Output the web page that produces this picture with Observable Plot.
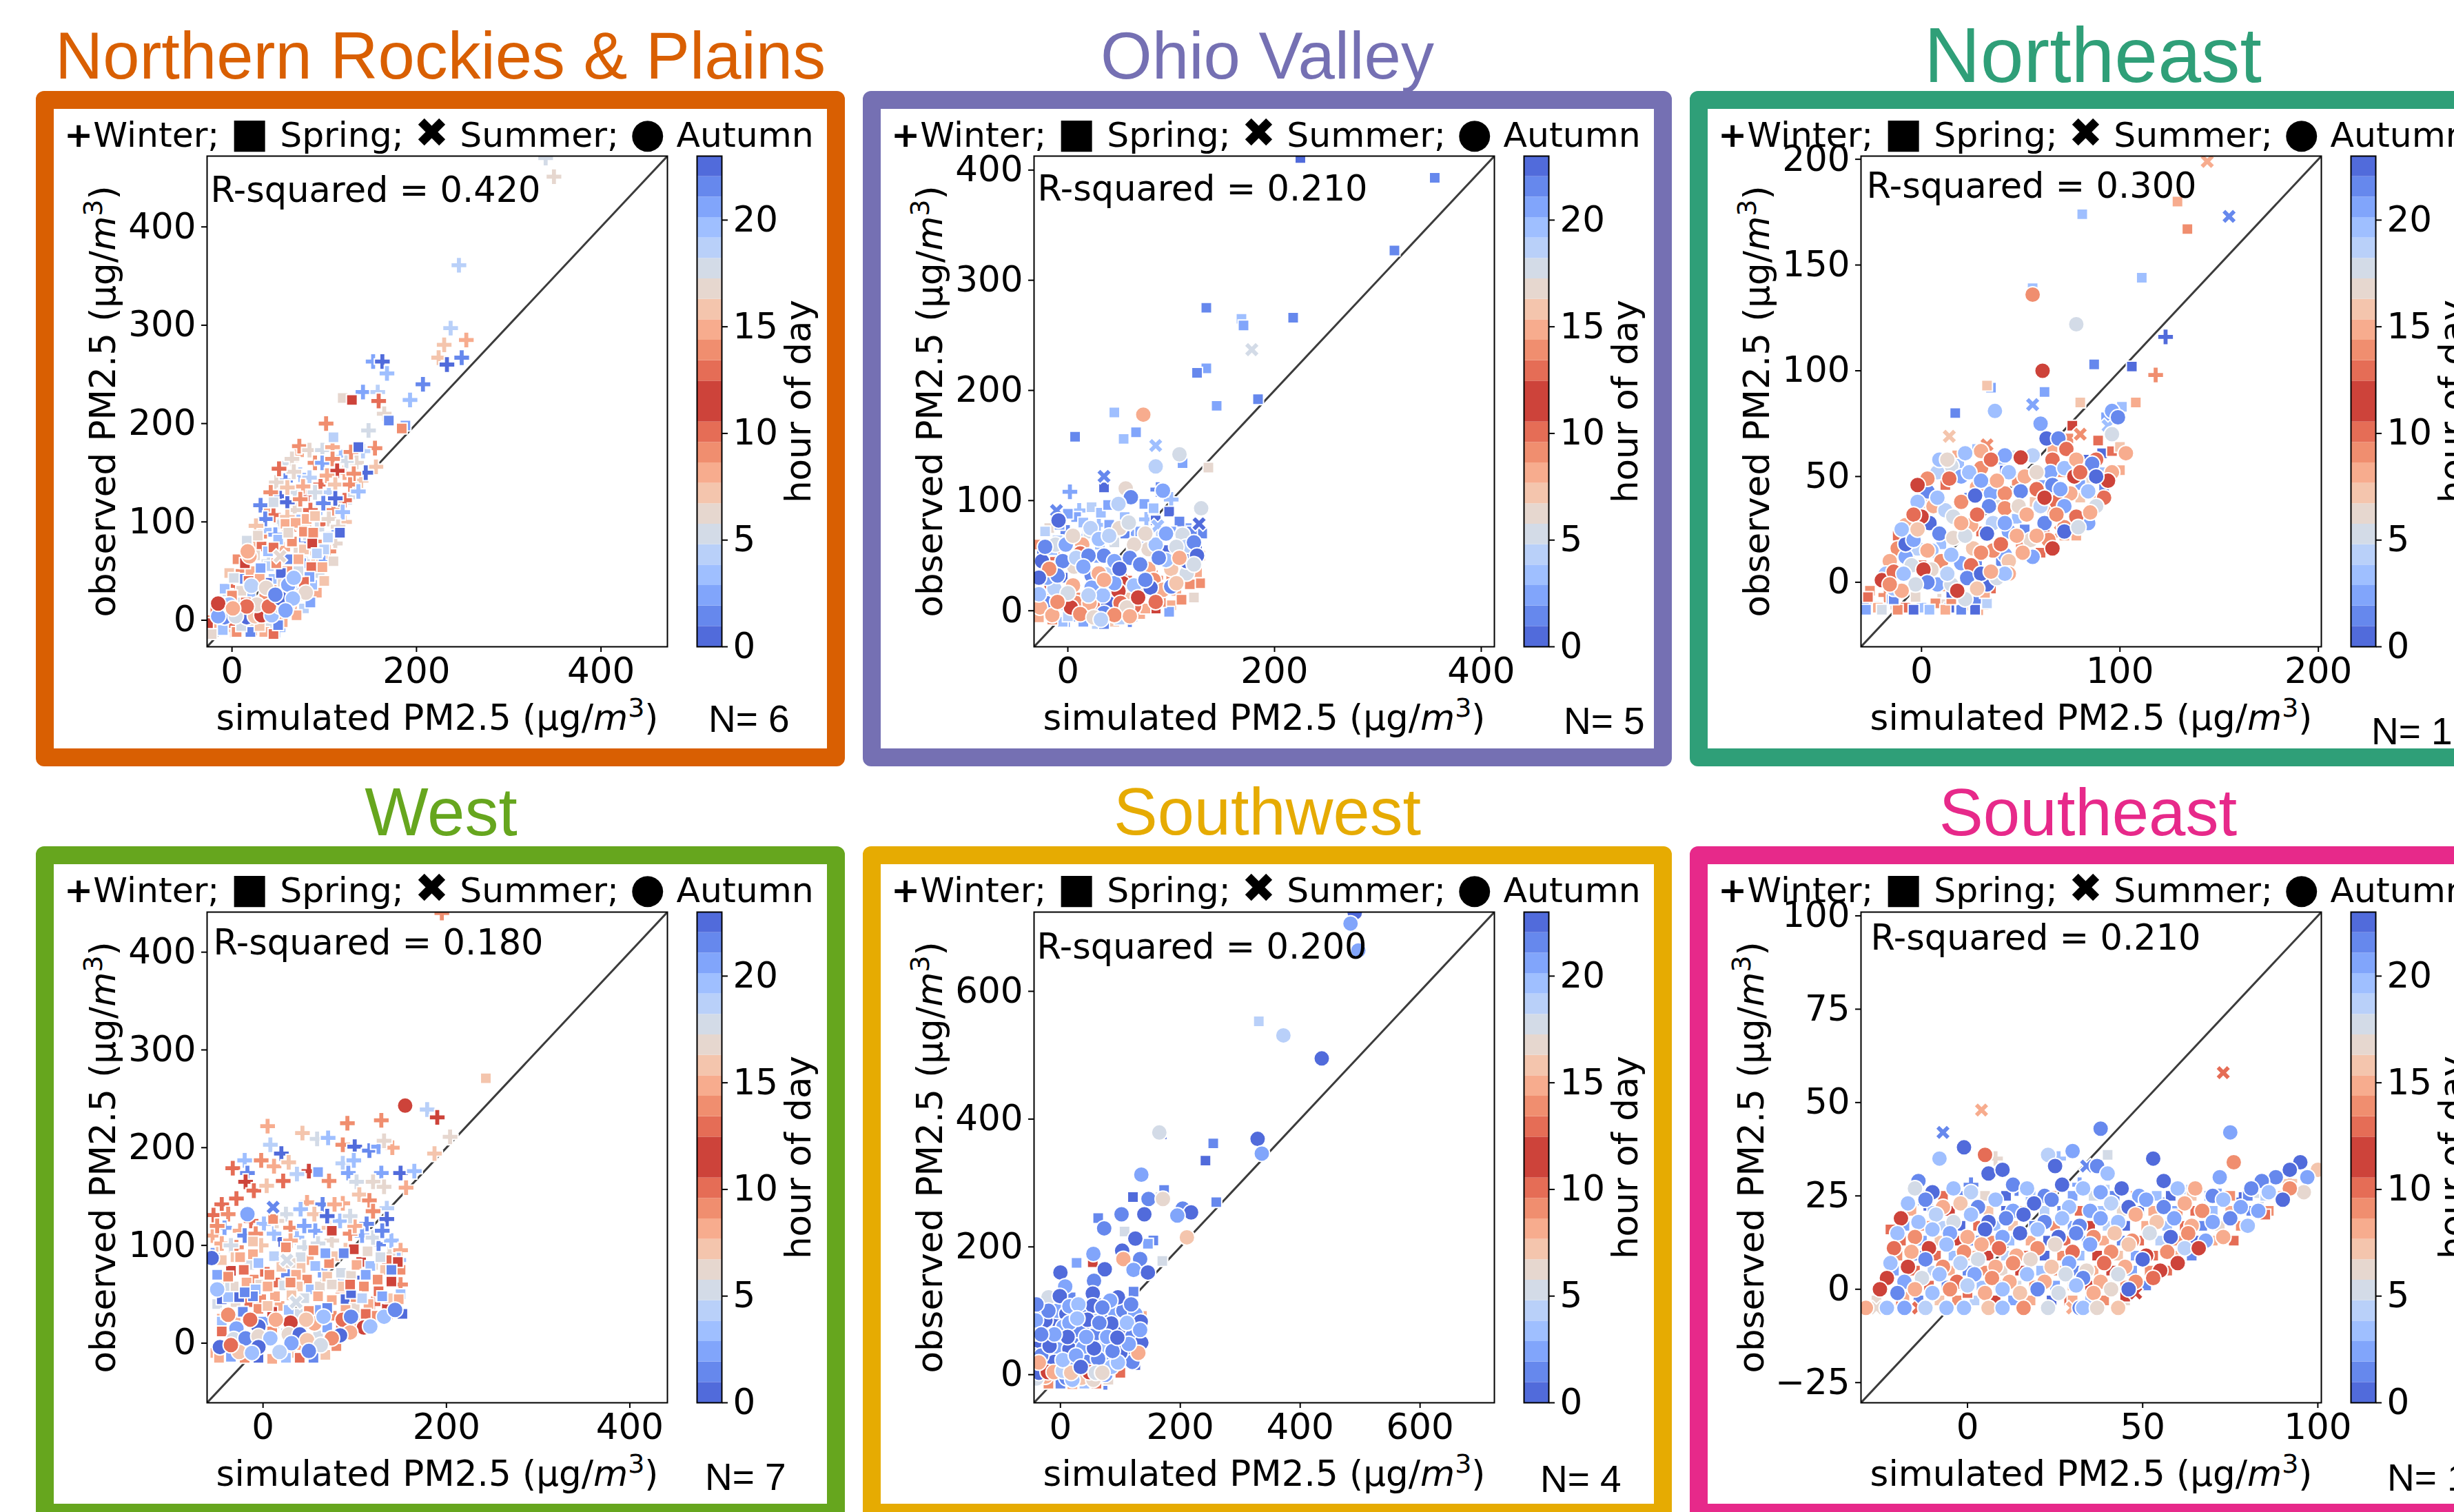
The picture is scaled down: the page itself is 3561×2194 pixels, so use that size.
<!DOCTYPE html>
<html><head><meta charset="utf-8">
<script src="https://cdn.jsdelivr.net/npm/d3@7"></script>
<script src="https://cdn.jsdelivr.net/npm/@observablehq/plot@0.6"></script>
<style>
html,body{margin:0;padding:0;background:#fff}
body{position:relative;width:3561px;height:2194px;overflow:hidden}
.frame{position:absolute;box-sizing:border-box;border-style:solid;border-width:26px;border-radius:12px;background:#fff}
.title{position:absolute;font-family:"Liberation Sans",sans-serif;line-height:1;white-space:nowrap;transform:translateX(-50%)}
.n{position:absolute;font-family:"Liberation Sans",sans-serif;line-height:1;font-size:55px;white-space:nowrap;color:#000}
.legend{position:absolute;font-family:"DejaVu Sans",sans-serif;line-height:1;font-size:50.4px;white-space:pre;color:#000}
.legend span{font-size:59px;line-height:0}
svg{overflow:visible;background:transparent !important}
</style></head><body>
<script>
// hour-of-day colour bands
const hours=[0,1,2,3,4,5,6,7,8,9,10,11,12,13,14,15,16,17,18,19,20,21,22,23];
const hourColors=["#516bdb","#6688ed","#81a5fb","#9fbfff","#b9d0f9","#d3dbe7","#e6d7cf","#f4c5ad","#f7ac8e","#f08e6f","#e56d56","#cd433a","#cd433a","#e56d56","#f08e6f","#f7ac8e","#f4c5ad","#e6d7cf","#d3dbe7","#b9d0f9","#9fbfff","#81a5fb","#6688ed","#516bdb"];
const barTicks=[0,5,10,15,20];

// [simulated, observed, hour]
const rockiesWinter=[[340,470,5],[349,451,6],[246,361,4],[237,297,4],[230,280,7],[254,285,8],[224,267,7],[233,260,0],[249,267,1],[153,263,2],[163,263,0],[168,251,3],[207,240,1],[193,224,3],[142,232,2],[158,232,4],[159,223,10],[165,210,6],[148,193,5],[102,200,9],[70,168,8],[118,166,3],[135,160,6],[58,160,5],[90,160,9],[74,148,3],[122,150,8],[58,142,1],[96,138,10],[140,142,7],[48,140,6],[68,130,5],[82,128,11],[105,130,4],[128,125,5],[44,118,7],[38,112,8],[68,112,6],[90,108,3],[110,112,9],[122,100,7],[52,100,5],[78,95,7],[62,92,9],[35,92,3],[110,88,2],[85,82,5],[98,98,10],[25,78,8],[40,72,9],[72,78,1],[112,78,6],[60,60,6],[80,60,5],[95,60,8],[102,62,2],[18,62,7],[73,177,9],[84,173,6],[98,173,5],[109,176,8],[155,175,9],[142,172,4],[124,162,5],[156,156,7],[98,160,2],[109,164,9],[129,171,9],[65,164,6],[114,152,11],[145,150,0],[132,149,9],[67,151,6],[51,154,10],[84,145,4],[103,147,8],[112,138,7],[128,138,9],[77,136,8],[137,131,3],[52,126,0],[60,120,0],[74,123,9],[99,119,1],[122,122,10],[112,124,0],[31,117,1],[45,107,10],[36,103,1],[26,96,7],[47,87,2],[105,103,6],[69,76,6],[105,70,9],[60,135,7],[90,130,5],[42,130,9],[120,110,3],[85,112,10],[60,105,7],[30,85,9],[92,92,5],[115,95,6],[72,100,3],[55,72,8],[88,68,7],[40,60,5],[20,70,10],[100,80,9],[12,50,9],[28,48,1],[70,40,6],[48,40,8],[5,35,10],[-8,22,5],[15,22,11],[-15,10,9],[-22,-5,10],[-26,-2,8],[0,-10,7],[25,-8,9],[50,-10,3]];
const rockiesSpring=[[45,120,5],[58,98,8],[32,75,10],[50,82,3],[78,72,7],[65,80,9],[100,72,4],[110,60,6],[6,62,9],[20,50,8],[40,55,4],[60,50,9],[75,58,2],[95,48,5],[-3,48,7],[8,42,1],[18,40,10],[45,42,3],[55,38,6],[75,30,0],[92,28,8],[-8,32,3],[5,18,5],[25,12,9],[50,15,2],[65,15,8],[78,12,4],[-18,12,10],[-5,8,6],[12,5,2],[30,0,7],[45,2,4],[55,-2,8],[-24,0,9],[-12,-2,1],[2,-3,10],[20,-3,6],[38,-8,5],[-30,-8,8],[120,226,6],[130,224,11],[170,203,1],[188,198,2],[184,195,9],[110,186,4],[137,176,0],[81,103,8],[69,99,8],[90,106,7],[61,89,6],[78,90,9],[88,89,9],[117,89,0],[104,84,4],[87,78,11],[16,81,5],[28,86,6],[39,70,3],[14,58,11],[31,53,2],[53,48,0],[86,54,10],[98,54,8],[87,36,3],[84,44,2],[78,39,10],[38,38,0],[2,43,5],[20,28,3],[35,22,9],[55,28,5],[72,25,7],[60,62,1],[72,62,8],[25,66,6],[45,74,10],[72,50,5],[92,68,4],[100,40,7],[65,38,2],[48,58,9],[30,42,8],[10,30,6],[0,25,9],[-10,18,2],[15,18,10],[40,12,6],[60,8,5],[85,18,2],[-20,-8,8],[-10,-10,3],[5,-12,9],[20,-12,1],[35,-12,8],[-22,-14,6],[45,-14,10],[10,-6,5],[30,-6,7],[50,-5,1],[70,5,8],[-26,-3,11]];
const rockiesSummer=[[52,65,6]];
const rockiesAutumn=[[16,3,0],[-8,3,1],[-15,4,2],[4,4,5],[25,4,7],[32,5,11],[43,5,3],[52,14,5],[60,16,3],[27,16,6],[40,14,10],[-3,16,3],[-15,17,11],[16,14,10],[1,12,8],[80,28,6],[61,36,2],[67,43,3],[21,35,4],[37,33,6],[19,65,8],[17,70,8],[53,22,0],[66,22,3],[47,26,1],[58,10,2]];

const ohioWinter=[[2,108,2],[100,101,3],[87,110,1],[11,91,3],[0,71,1],[76,83,3],[44,45,10],[103,27,4],[64,70,2],[16,68,3],[-10,47,10],[30,78,3],[55,30,10],[85,30,9],[-15,30,8],[25,15,9],[60,-8,1],[0,-8,2]];
const ohioSpring=[[-28,30,4],[-28,60,9],[-15,55,3],[-5,60,1],[20,70,5],[50,72,0],[62,55,2],[80,62,6],[105,60,3],[115,75,2],[130,70,1],[128,50,8],[128,25,9],[122,12,6],[100,30,9],[100,5,8],[85,18,10],[72,18,9],[58,12,7],[40,20,11],[28,5,10],[12,12,9],[-10,12,11],[-25,-3,9],[-5,-10,3],[28,-12,4],[45,-10,7],[70,-3,8],[85,2,11],[98,-1,2],[-18,75,6],[8,85,2],[55,70,1],[85,82,0],[225,411,0],[355,393,1],[316,327,1],[134,275,1],[168,265,3],[170,259,2],[218,266,1],[134,220,2],[125,216,1],[144,186,2],[184,192,1],[45,180,3],[66,162,2],[54,156,3],[7,158,1],[111,134,2],[136,130,6],[35,112,0],[0,88,2],[23,94,4],[32,89,3],[39,96,2],[74,97,2],[83,93,3],[98,90,0],[108,81,1],[-10,64,4],[31,60,3],[95,55,0],[110,47,3],[100,72,2],[-22,72,4],[-8,78,2],[15,80,3],[40,78,2],[55,85,3],[70,72,2],[90,70,4],[120,72,1],[125,60,0],[-25,50,1],[-15,40,2],[10,58,4],[45,62,5],[70,60,1],[120,48,0],[125,35,8],[118,24,9],[105,18,8],[90,8,9],[75,2,8],[60,-2,10],[40,-5,3],[20,-8,1],[0,-5,4],[-15,-8,9],[-28,-6,8],[35,-12,1],[15,-10,2],[50,-8,4],[-20,14,9],[-5,30,0],[30,48,2],[60,45,3],[85,45,1],[40,35,4],[70,12,5],[110,10,9]];
const ohioSummer=[[178,237,5],[85,150,3],[35,122,1],[-11,91,1],[87,77,3],[127,79,0],[38,67,2]];
const ohioAutumn=[[73,178,8],[108,142,5],[85,131,4],[56,111,6],[92,109,2],[61,103,1],[49,97,4],[-9,82,0],[129,93,5],[50,75,6],[59,80,5],[22,75,4],[111,69,5],[114,58,4],[14,60,8],[12,52,10],[78,56,6],[64,60,6],[-12,60,5],[115,34,5],[6,40,6],[23,32,1],[30,34,8],[78,38,8],[100,38,7],[53,25,11],[83,28,9],[92,19,8],[49,18,11],[80,21,0],[5,23,8],[-16,24,11],[23,21,2],[64,23,3],[-21,7,1],[-5,7,4],[8,7,9],[21,7,8],[39,7,0],[51,7,10],[-13,20,4],[64,4,10],[-27,3,8],[3,3,11],[57,3,6],[34,14,3],[-25,45,0],[-5,45,1],[35,50,1],[60,48,1],[95,46,3],[75,28,1],[45,25,2],[20,14,4],[0,16,5],[-20,30,2],[-28,15,3],[100,22,1],[115,45,0],[45,45,2],[85,60,3],[30,65,3],[-2,60,2],[-22,58,1],[5,68,6],[40,68,4],[75,70,6],[95,70,2],[122,62,1],[105,58,5],[88,48,1],[70,42,1],[50,38,0],[35,28,8],[-10,32,1],[8,48,4],[-18,38,9],[125,50,0],[108,48,8],[68,12,11],[85,8,10],[12,-3,9],[35,-2,1],[45,-4,9],[-15,-4,8],[25,-6,6],[60,-5,8],[105,25,7],[122,42,5],[-28,30,0],[20,50,1],[32,-8,4],[-10,8,9],[15,40,2]];

const neWinter=[[123,116,0],[118,98,9],[68,55,9],[63,41,2],[84,49,6],[14,52,5],[39,44,7],[3,36,7],[11,36,1],[40,38,5],[9,-9,6],[-25,-10,3],[-18,-6,9],[25,-10,1],[30,-12,8],[-12,-12,6]];
const neSpring=[[81,174,3],[129,180,8],[134,167,9],[111,144,3],[56,139,3],[87,103,1],[106,102,0],[62,90,2],[35,92,2],[33,93,7],[17,80,1],[80,85,7],[108,85,8],[101,83,3],[93,78,2],[76,74,11],[89,67,10],[91,61,0],[96,62,10],[100,53,8],[100,64,7],[66,63,8],[74,68,9],[18,60,8],[28,63,3],[19,56,3],[33,46,8],[42,53,0],[55,51,8],[60,46,2],[73,38,3],[80,40,7],[88,39,9],[57,38,7],[88,35,8],[62,23,11],[-29,-11,1],[-22,-12,8],[-15,-8,2],[-8,-12,10],[0,-12,3],[7,-10,9],[14,-12,0],[21,-11,7],[28,-9,1],[-26,-4,9],[-20,2,4],[10,-2,8],[35,-3,10],[40,10,1],[50,18,9],[60,14,10],[72,22,8],[85,30,11],[92,45,1],[45,60,5],[55,60,8],[36,58,1],[70,52,9],[82,58,0],[48,30,3],[12,46,10],[5,28,3],[-6,14,8],[-28,-13,2],[-20,-13,5],[-12,-13,9],[-4,-13,0],[4,-13,3],[12,-13,8],[20,-13,1],[27,-13,0],[33,-10,4],[-27,-7,10],[-14,-8,1],[-3,-7,6],[15,-8,9],[32,-5,8],[24,40,1],[48,48,9],[10,18,3],[30,24,10],[52,25,1],[66,34,8],[80,46,2],[92,52,3],[40,58,3],[-12,22,10],[15,-5,0],[0,8,10],[28,8,1],[78,22,8]];
const neSummer=[[144,199,8],[155,173,1],[56,84,2],[14,69,7],[33,65,9],[80,70,9],[94,74,3],[70,24,9]];
const neAutumn=[[22,61,3],[30,62,8],[42,60,2],[56,60,4],[66,58,10],[88,58,10],[15,55,5],[8,52,4],[20,50,2],[30,54,9],[44,52,3],[52,50,8],[65,52,2],[72,54,3],[86,56,1],[96,52,8],[3,43,1],[28,45,8],[35,42,2],[42,42,9],[58,44,10],[66,46,1],[75,42,8],[84,43,3],[92,40,10],[-2,38,3],[6,36,8],[12,34,4],[34,36,1],[42,35,9],[60,36,4],[68,38,10],[72,36,2],[88,36,5],[-8,27,8],[4,28,0],[25,27,8],[36,28,4],[44,24,2],[62,28,1],[72,26,9],[84,28,2],[-12,16,9],[-2,16,4],[5,15,3],[26,16,7],[42,13,2],[55,20,6],[64,20,9],[72,24,0],[-8,12,2],[-16,10,8],[-5,8,5],[10,10,9],[20,9,2],[25,8,10],[44,10,7],[56,12,2],[-18,4,3],[-20,1,11],[8,-1,2],[15,-1,5],[33,-1,0],[38,2,5],[44,4,8],[-14,-3,3],[22,-8,5],[56,136,9],[78,122,5],[61,100,11],[37,81,3],[60,75,2],[96,81,2],[99,78,1],[96,70,5],[63,68,0],[69,68,1],[73,63,10],[103,61,8],[78,58,8],[50,59,11],[35,58,10],[77,50,11],[80,52,10],[94,48,11],[3,49,9],[-2,46,11],[14,49,10],[9,58,3],[13,58,6],[50,43,1],[20,38,9],[27,41,0],[49,36,6],[0,31,11],[-4,32,10],[28,32,10],[53,32,8],[16,31,5],[78,31,10],[85,33,8],[33,23,0],[9,23,1],[16,21,6],[22,22,5],[-8,18,0],[-4,20,2],[-10,25,3],[36,15,9],[51,14,8],[66,16,11],[79,26,5],[58,22,8],[48,22,8],[5,6,6],[1,6,11],[-14,5,10],[-9,4,3],[13,4,4],[23,2,1],[30,4,0],[42,4,3],[3,0,1],[-3,-1,5],[18,-4,11],[28,-3,7],[-10,-4,8],[35,5,8],[-16,-1,9],[42,28,2],[38,48,8],[24,52,3],[62,40,11],[70,44,2],[88,50,0],[68,32,9],[40,18,10],[30,14,9],[15,13,3],[3,15,8],[58,52,6],[30,48,2],[20,28,8],[8,40,3],[-2,25,7]];

const westWinter=[[195,440,9],[179,239,4],[190,231,11],[204,211,6],[187,194,7],[5,222,8],[43,215,7],[92,225,9],[129,228,9],[59,209,5],[71,210,3],[8,203,4],[20,194,0],[87,203,9],[100,201,0],[116,197,1],[126,201,2],[141,200,8],[132,207,6],[87,184,4],[99,187,3],[93,174,2],[-33,179,10],[-20,187,3],[-2,187,9],[-17,174,1],[12,181,8],[28,185,7],[-19,165,11],[-10,156,10],[-29,148,10],[4,161,7],[22,166,10],[50,176,11],[72,166,9],[37,173,4],[102,165,5],[129,174,2],[150,174,0],[165,176,3],[120,165,6],[132,160,6],[156,159,8],[105,152,7],[116,146,9],[135,138,4],[135,127,0],[113,122,1],[-45,142,10],[-54,131,10],[-38,132,9],[-13,125,10],[48,144,8],[65,142,1],[87,143,8],[78,142,8],[25,132,5],[41,137,3],[56,132,7],[-42,118,2],[1,122,3],[19,106,0],[37,108,3],[57,115,2],[84,125,3],[108,110,2],[126,101,1],[45,98,5],[-29,98,9],[-50,96,7],[138,91,6],[87,53,9],[139,32,11],[81,63,3],[108,67,0],[-25,115,8],[95,112,9],[75,105,6],[-2,100,7],[30,118,9],[-55,110,8],[150,60,9],[120,40,10],[-45,102,8],[-20,110,1],[-8,112,9],[12,112,3],[30,105,8],[60,102,5],[72,118,7],[100,120,8],[120,108,5],[140,105,3],[90,95,7],[-35,100,5],[-55,90,2],[-50,120,9],[15,125,6],[45,120,2],[120,135,9],[95,130,5],[70,130,0],[130,115,1],[150,95,8],[148,85,3]];
const westSpring=[[-50,70,2],[-50,40,5],[-45,25,8],[-30,88,7],[-15,80,5],[-10,65,9],[-3,60,6],[15,62,10],[25,72,1],[48,65,9],[50,85,8],[65,72,2],[85,72,5],[85,58,7],[110,58,9],[120,80,6],[135,85,10],[150,75,9],[150,50,3],[115,40,8],[90,45,0],[75,44,8],[52,55,3],[38,58,7],[-2,45,9],[-18,62,8],[-30,42,6],[-45,45,0],[-15,42,10],[0,22,2],[18,38,8],[38,30,5],[58,34,2],[75,28,9],[100,36,6],[122,28,9],[135,35,11],[-45,22,3],[-30,22,8],[-10,-2,1],[10,12,9],[25,10,4],[40,-2,8],[60,8,5],[70,16,2],[85,18,10],[105,22,9],[30,-10,7],[-30,-12,5],[-52,-10,8],[243,271,7],[60,175,2],[11,127,9],[75,115,11],[-11,104,7],[25,98,9],[99,96,11],[107,83,11],[147,83,11],[133,75,7],[140,63,11],[-35,74,11],[-21,75,10],[2,73,10],[41,88,5],[41,77,7],[78,89,7],[-32,58,6],[-42,58,5],[-8,55,3],[23,59,5],[62,58,6],[96,69,6],[-38,47,3],[-26,47,0],[13,48,8],[31,49,7],[45,46,5],[101,47,9],[-11,48,1],[60,48,8],[126,53,10],[138,46,7],[72,82,9],[-11,91,8],[57,79,3],[114,94,6],[12,89,4],[7,70,9],[36,70,8],[108,46,4],[96,51,0],[117,79,3],[-45,85,7],[-25,88,8],[-40,30,9],[-22,32,1],[-5,35,9],[10,32,11],[28,34,3],[50,33,9],[70,36,1],[90,34,8],[112,30,10],[130,48,2],[148,45,8],[152,30,0],[125,65,9],[55,95,9],[88,92,1],[128,88,5],[20,78,7],[70,68,7],[-48,-15,8],[-35,-14,2],[-20,-15,9],[-5,-15,0],[10,-16,8],[25,-15,3],[40,-15,10],[55,-15,1],[68,-12,7],[80,-3,9],[-45,12,10],[92,8,8],[-48,58,7],[-20,52,1],[5,58,8],[30,82,6],[68,92,2],[102,80,8],[30,62,9],[75,60,6],[112,70,2],[140,75,1],[-38,68,9],[-5,82,3],[95,60,10],[50,20,8],[5,38,7]];
const westSummer=[[11,139,1],[26,85,5],[36,42,5]];
const westAutumn=[[155,243,11],[-17,132,2],[87,24,10],[110,16,11],[95,11,8],[84,8,0],[75,5,9],[56,20,8],[47,24,7],[30,21,11],[14,24,8],[-5,17,0],[-14,24,10],[-38,29,9],[-29,15,2],[-47,-4,0],[-32,4,5],[-19,5,1],[-5,7,6],[8,5,3],[28,9,6],[40,9,0],[48,3,7],[31,0,2],[-26,-9,7],[-5,-4,0],[-50,55,3],[-56,87,0],[132,27,3],[96,27,1],[66,27,3],[144,34,1],[-35,-2,10],[18,-9,4],[63,-2,5],[117,17,3],[-12,-10,3],[50,-8,1]];

const swWinter=[[12,45,1],[60,90,0],[-30,40,0],[110,60,2],[30,-10,3],[75,-12,1]];
const swSpring=[[-42,50,1],[-30,80,2],[0,50,0],[40,75,1],[70,55,4],[90,75,0],[120,80,1],[130,60,2],[115,30,0],[-15,10,1],[25,5,2],[45,10,0],[70,10,2],[85,25,1],[-40,95,0],[10,110,1],[331,553,4],[169,376,0],[255,362,1],[242,335,0],[173,289,1],[167,278,5],[121,278,0],[260,270,1],[63,245,1],[107,224,5],[155,210,1],[146,205,2],[27,175,2],[170,178,5],[54,176,11],[61,150,6],[122,130,1],[-36,112,0],[17,121,1],[-11,77,1],[127,52,6],[107,68,1],[93,99,3],[78,86,3],[-20,63,4],[30,53,1],[-5,81,0],[136,92,8],[-40,-10,6],[-20,-14,9],[0,-14,1],[20,-15,8],[40,-14,3],[60,-14,10],[80,-8,6],[100,3,10],[125,15,0]];
const swSummer=[[30,95,1]];
const swAutumn=[[-38,105,1],[-25,85,0],[-5,100,2],[10,95,0],[40,100,1],[60,110,0],[75,95,1],[90,100,2],[105,100,1],[125,95,2],[-38,45,0],[-20,25,1],[-5,40,2],[15,40,0],[38,42,2],[75,45,3],[100,65,0],[120,60,1],[60,65,1],[-10,20,0],[20,15,2],[45,20,1],[70,20,2],[85,60,1],[-40,65,3],[30,70,1],[5,75,2],[55,85,3],[85,80,0],[105,45,2],[135,50,0],[120,20,1],[-45,30,2],[75,0,2],[85,12,3],[-25,-3,8],[10,-5,1],[35,-5,7],[55,-8,6],[-40,-6,5],[20,-8,3],[491,723,0],[484,706,2],[497,664,2],[372,531,4],[436,495,0],[165,379,5],[329,369,0],[336,346,2],[135,313,2],[147,275,1],[171,275,6],[204,260,1],[218,254,0],[195,249,2],[102,251,1],[140,251,0],[73,229,1],[125,213,0],[211,215,7],[103,194,0],[55,189,2],[105,181,8],[133,181,1],[0,160,0],[74,165,0],[122,164,2],[146,160,0],[8,138,2],[56,147,1],[-20,121,5],[-1,123,0],[54,127,0],[96,121,0],[83,116,2],[118,110,1],[-20,100,1],[15,107,2],[54,108,0],[30,110,3],[-41,85,2],[45,86,0],[15,81,2],[28,88,3],[134,83,0],[111,81,3],[78,59,2],[133,70,2],[63,25,1],[100,34,0],[130,34,8],[96,19,3],[-36,3,0],[-21,4,11],[-11,4,8],[4,6,4],[18,3,7],[48,4,11],[59,3,5],[70,3,6],[-32,30,1],[-18,45,0],[-36,19,8],[4,23,3],[26,30,2],[56,41,0],[87,37,1],[114,48,2],[12,59,0],[-10,63,2],[-32,63,1],[43,59,2],[65,81,1],[34,12,0],[95,58,0],[70,105,1],[-40,110,1]];

const seWinter=[[8,35,6],[26,35,3],[92,29,7],[1,28,1],[-12,23,0],[-4,27,3],[14,27,1],[32,28,2],[40,26,4],[55,24,1],[63,26,3],[72,25,2],[78,24,0],[84,25,5]];
const seSpring=[[-13,25,3],[-7,25,10],[-1,25,1],[5,25,6],[11,25,0],[18,25,3],[24,25,8],[30,25,2],[36,25,5],[42,25,1],[48,25,9],[54,25,3],[58,25,0],[64,25,7],[69,25,2],[75,25,9],[80,25,1],[85,25,4],[90,25,8],[-16,21,8],[-10,21,3],[-5,21,11],[1,21,2],[6,21,7],[11,21,0],[16,21,9],[22,21,4],[27,21,1],[32,21,10],[38,21,3],[44,21,6],[49,21,0],[53,21,8],[59,21,2],[65,21,10],[70,21,3],[75,21,8],[81,21,1],[86,21,9],[-18,17,2],[-12,17,9],[-7,17,4],[-2,17,0],[3,17,10],[8,17,3],[13,17,7],[19,17,1],[25,17,9],[30,17,2],[35,17,11],[40,17,4],[45,17,0],[51,17,8],[57,17,3],[62,17,10],[67,17,1],[72,17,6],[78,17,9],[-19,13,10],[-13,13,2],[-8,13,7],[-3,13,11],[2,13,1],[7,13,9],[12,13,3],[18,13,8],[23,13,0],[28,13,10],[34,13,2],[39,13,8],[44,13,1],[49,13,10],[55,13,4],[60,13,9],[65,13,0],[70,13,8],[76,13,10],[-20,9,9],[-14,9,1],[-9,9,10],[-4,9,3],[1,9,8],[6,9,11],[11,9,4],[16,9,10],[22,9,0],[27,9,9],[32,9,3],[37,9,11],[43,9,7],[48,9,2],[53,9,10],[59,9,8],[64,9,1],[-21,5,2],[-15,5,10],[-10,5,4],[-5,5,8],[0,5,1],[5,5,9],[10,5,6],[15,5,11],[21,5,3],[26,5,9],[31,5,1],[36,5,8],[41,5,11],[47,5,2],[52,5,9],[57,5,10],[-24,1,9],[-17,1,3],[-11,1,10],[-6,1,1],[-1,1,8],[4,1,3],[9,1,11],[14,1,5],[19,1,9],[25,1,2],[30,1,8],[35,1,11],[40,1,4],[45,1,9],[51,1,1],[-26,-3,6],[-19,-3,10],[-14,-3,1],[-8,-3,7],[-3,-3,9],[2,-3,4],[8,-3,11],[13,-3,2],[18,-3,8],[24,-3,0],[29,-3,10],[35,-3,3],[39,-3,9],[45,-3,6],[40,36,5],[-22,16,10],[85,20,10],[-24,2,11],[-18,-2,8],[60,20,9],[0,-1,10],[20,0,11],[30,-3,8],[45,-2,11],[-10,-1,6]];
const seSummer=[[73,58,10],[4,48,8],[-7,42,1],[34,33,1],[30,-5,8],[-14,-5,10],[-26,-5,6],[48,-1,11]];
const seAutumn=[[38,43,1],[75,42,2],[-1,38,0],[-8,35,3],[5,36,10],[30,37,2],[23,36,4],[53,35,0],[76,34,9],[37,33,1],[25,33,0],[40,31,3],[6,31,0],[10,32,0],[95,34,0],[100,32,7],[92,32,0],[97,30,2],[-14,29,1],[56,29,0],[72,30,2],[88,30,1],[96,26,6],[92,27,9],[84,29,1],[90,24,0],
[-15,27,5],[-10,26,0],[-4,27,3],[1,26,4],[13,28,1],[17,27,3],[22,25,1],[27,28,0],[33,27,3],[38,26,2],[44,27,0],[49,25,2],[60,27,3],[65,27,8],[70,25,1],[81,27,1],[86,26,3],
[-17,23,3],[-12,24,1],[-7,22,8],[-2,23,7],[3,22,1],[8,24,3],[13,21,2],[19,23,0],[24,24,1],[29,22,3],[35,21,2],[41,23,4],[46,22,0],[51,24,2],[56,22,1],[62,23,8],[67,21,9],[73,24,3],[78,22,2],[83,21,2],
[-19,19,11],[-14,18,3],[-9,20,4],[-4,18,5],[1,20,3],[6,18,0],[11,19,1],[16,20,0],[22,18,1],[27,19,3],[32,17,1],[38,19,2],[43,18,3],[48,20,8],[54,18,7],[59,19,2],[64,17,8],[70,18,2],[75,19,1],[80,17,3],
[-20,15,3],[-15,14,9],[-10,16,3],[-5,15,2],[0,14,8],[5,16,0],[10,14,2],[15,15,0],[20,16,3],[26,14,0],[31,15,1],[36,14,9],[42,15,7],[47,13,9],[52,15,5],[58,14,0],[63,15,9],[68,13,2],[73,14,8],
[-21,11,10],[-16,10,8],[-11,11,11],[-6,12,3],[-1,10,9],[4,12,8],[9,11,10],[14,9,8],[20,11,9],[25,12,6],[30,10,10],[35,12,2],[41,10,9],[46,12,7],[51,9,11],[57,10,9],[62,11,4],[66,11,11],
[-22,7,3],[-17,6,11],[-12,8,1],[-7,6,9],[-2,7,4],[3,8,5],[8,6,8],[13,7,9],[18,8,6],[24,6,7],[29,7,2],[34,5,6],[39,7,10],[45,6,8],[50,8,0],[55,5,11],[60,7,11],
[-23,3,11],[-18,2,2],[-13,3,5],[-8,4,3],[-3,2,10],[2,4,2],[7,3,9],[12,2,8],[17,4,3],[22,2,8],[28,4,5],[33,3,1],[38,2,8],[43,4,5],[48,2,9],[53,3,10],
[-25,0,11],[-20,-1,1],[-15,0,8],[-10,-1,3],[-5,0,9],[0,1,4],[5,-1,8],[10,0,3],[15,-1,7],[20,0,1],[26,-1,5],[31,1,3],[36,-1,8],[41,0,6],[46,0,0],
[-29,-5,8],[-23,-5,3],[-18,-5,2],[-12,-5,4],[-6,-5,3],[-1,-5,3],[6,-5,7],[10,-5,3],[16,-5,9],[23,-5,5],[32,-5,1],[33,-5,3],[37,-5,6],[43,-5,7]];

const panels=[
 {title:"Northern Rockies & Plains",color:"#D95F02",size:95.8,cx:639,base:114,frame:[52,132],plot:[300,226],dom:[-27,472],xt:[0,200,400],yt:[0,100,200,300,400],r2:"R-squared = 0.420",r2at:[305,276],n:"N= 6",nAt:[1028,1043],ylab:170,data:[rockiesWinter,rockiesSpring,rockiesSummer,rockiesAutumn]},
 {title:"Ohio Valley",color:"#7570B3",size:96,cx:1839,base:114,frame:[1252,132],plot:[1500,226],dom:[-32.7,412.7],xt:[0,200,400],yt:[0,100,200,300,400],r2:"R-squared = 0.210",r2at:[1505,274],n:"N= 5",nAt:[2269,1046],ylab:170,data:[ohioWinter,ohioSpring,ohioSummer,ohioAutumn]},
 {title:"Northeast",color:"#2F9F78",size:113,cx:3037,base:120,frame:[2452,132],plot:[2700,226],dom:[-30.5,201.5],xt:[0,100,200],yt:[0,50,100,150,200],r2:"R-squared = 0.300",r2at:[2708,270],n:"N= 1",nAt:[3441,1061],ylab:170,data:[neWinter,neSpring,neSummer,neAutumn]},
 {title:"West",color:"#66A61E",size:98,cx:640,base:1212,frame:[52,1228],plot:[300,1323],dom:[-61,441],xt:[0,200,400],yt:[0,100,200,300,400],r2:"R-squared = 0.180",r2at:[309,1368],n:"N= 7",nAt:[1023,2143],ylab:170,data:[westWinter,westSpring,westSummer,westAutumn]},
 {title:"Southwest",color:"#E6AB02",size:95.5,cx:1839,base:1212,frame:[1252,1228],plot:[1500,1323],dom:[-44,724],xt:[0,200,400,600],yt:[0,200,400,600],r2:"R-squared = 0.200",r2at:[1504,1374],n:"N= 4",nAt:[2235,2146],ylab:170,data:[swWinter,swSpring,swSummer,swAutumn]},
 {title:"Southeast",color:"#E7298A",size:96,cx:3030,base:1212,frame:[2452,1228],plot:[2700,1323],dom:[-30.4,101],xt:[0,50,100],yt:[-25,0,25,50,75,100],r2:"R-squared = 0.210",r2at:[2714,1361],n:"N= 1",nAt:[3464,2144],ylab:178,data:[seWinter,seSpring,seSummer,seAutumn]}
];

const PW=668, PH=712, ML=230, MR=60, MT=60, MB=140, FS=51.5;
const colorScale={type:"ordinal",domain:hours,range:hourColors};
const filledX={draw(ctx,size){const r=Math.sqrt(size/5)/2,s=Math.SQRT1_2;
 const pts=[[-3,-1],[-1,-1],[-1,-3],[1,-3],[1,-1],[3,-1],[3,1],[1,1],[1,3],[-1,3],[-1,1],[-3,1]];
 pts.forEach(([a,b],i)=>{const x=(a-b)*s*r,y=(a+b)*s*r; i?ctx.lineTo(x,y):ctx.moveTo(x,y)});ctx.closePath()}};
const seasonStyle=[{symbol:"cross",r:9.8},{symbol:"square",r:9},{symbol:filledX,r:9.8},{symbol:"circle",r:11.5}];
const xy={x:d=>d[0],y:d=>d[1],fill:d=>d[2],stroke:"white",strokeWidth:2,clip:true};

function el(cls,css,html){const d=document.createElement("div");d.className=cls;Object.assign(d.style,css);if(html!=null)d.innerHTML=html;document.body.appendChild(d);return d}
function unitLabel(svg,start){
 svg.querySelectorAll("text").forEach(t=>{if(t.textContent.startsWith(start)){
  t.innerHTML=start+' PM2.5 (μg/<tspan font-style="italic">m</tspan><tspan dy="-19" font-size="38">3</tspan><tspan dy="19">)</tspan>';}});
}

panels.forEach(p=>{
 el("frame",{left:p.frame[0]+"px",top:p.frame[1]+"px",width:"1174px",height:"980px",borderColor:p.color});
 el("title",{left:p.cx+"px",top:(p.base-0.8465*p.size)+"px",fontSize:p.size+"px",color:p.color},p.title.replace("&","&amp;"));
 el("legend",{left:(p.frame[0]+41)+"px",top:(p.frame[1]+82-0.846*50.4)+"px"},'<b>+</b>Winter; <span>■</span> Spring; <span>✖</span> Summer; <span>●</span> Autumn');
 el("n",{left:p.nAt[0]+"px",top:(p.nAt[1]-0.488*55)+"px"},p.n);

 const chart=Plot.plot({
  width:PW+ML+MR,height:PH+MT+MB,marginLeft:ML,marginRight:MR,marginTop:MT,marginBottom:MB,
  style:{fontFamily:"DejaVu Sans",fontSize:FS+"px",color:"#000",background:"transparent",overflow:"visible"},
  x:{domain:p.dom},y:{domain:p.dom},color:colorScale,
  marks:[
   Plot.line([[p.dom[0],p.dom[0]],[p.dom[1],p.dom[1]]],{x:d=>d[0],y:d=>d[1],stroke:"#3c3c3c",strokeWidth:3,clip:true}),
   ...p.data.map((rows,i)=>Plot.dot(rows,{...xy,...seasonStyle[i]})),
   Plot.frame({stroke:"#000",strokeWidth:2}),
   Plot.axisX({ticks:p.xt,tickSize:8,tickPadding:8,fontSize:FS,stroke:"#000",strokeWidth:2,label:"simulated",labelAnchor:"center",labelArrow:"none",labelOffset:120,tickFormat:d=>d3.format("")(d).replace("-","−")}),
   Plot.axisY({ticks:p.yt,tickSize:8,tickPadding:8,fontSize:FS,stroke:"#000",strokeWidth:2,label:"observed",labelAnchor:"center",labelArrow:"none",labelOffset:p.ylab,tickFormat:d=>d3.format("")(d).replace("-","−")}),
   Plot.text([p.r2],{text:d=>d,frameAnchor:"top-left",dx:p.r2at[0]-p.plot[0],dy:p.r2at[1]-p.plot[1],textAnchor:"start",lineAnchor:"middle",fontSize:51,fill:"#000"})
  ]});
 chart.style.position="absolute";chart.style.left=(p.plot[0]-ML)+"px";chart.style.top=(p.plot[1]-MT)+"px";
 unitLabel(chart,"simulated");unitLabel(chart,"observed");
 document.body.appendChild(chart);

 const bar=Plot.plot({
  width:36+200,height:PH+MT+MB,marginLeft:0,marginRight:200,marginTop:MT,marginBottom:MB,
  style:{fontFamily:"DejaVu Sans",fontSize:FS+"px",color:"#000",background:"transparent",overflow:"visible"},
  x:{domain:[0,1],axis:null},y:{domain:[0,23]},color:colorScale,
  marks:[
   Plot.rect(hours,{x1:0,x2:1,y1:h=>h*23/24,y2:h=>(h+1)*23/24,fill:h=>h}),
   Plot.frame({stroke:"#000",strokeWidth:2}),
   Plot.axisY({anchor:"right",ticks:barTicks,tickSize:8,tickPadding:8,fontSize:FS,stroke:"#000",strokeWidth:2,label:"hour of day",labelAnchor:"center",labelArrow:"none",labelOffset:128})
  ]});
 bar.style.position="absolute";
 bar.style.left=(p.plot[0]+711)+"px";
 bar.style.top=(p.plot[1]-MT)+"px";
 document.body.appendChild(bar);
});
</script>
</body></html>
